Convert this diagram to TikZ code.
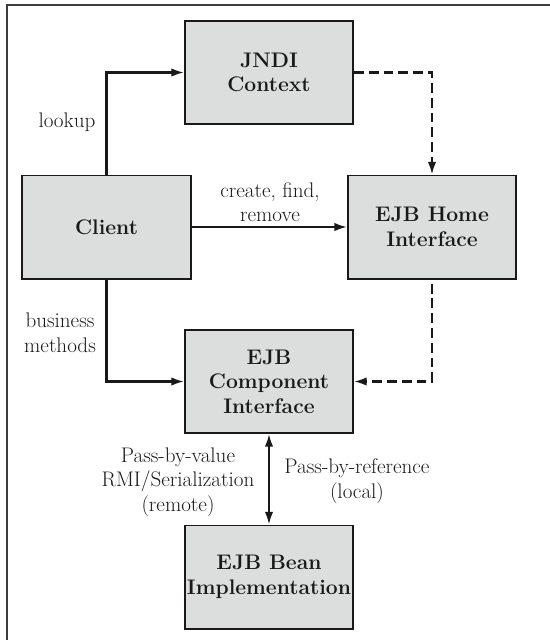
\documentclass[tikz,border=0pt]{standalone}
\usepackage{tikz}
\usetikzlibrary{arrows,arrows.meta,positioning,calc}
\definecolor{boxgray}{RGB}{220,222,222}
\definecolor{inkgray}{RGB}{25,25,25}

\begin{document}
\begin{tikzpicture}[x=0.025cm, y=-0.025cm, >={Latex[length=9pt,width=6pt]}, text=inkgray,
  main node/.style={rectangle,draw=inkgray,fill=boxgray,line width=1.4pt,minimum width=4.2cm,minimum height=2.575cm,inner sep=0pt,align=center,font=\fontsize{15}{17.5}\selectfont\bfseries},
  lbl/.style={align=center,font=\fontsize{15}{17.5}\selectfont},
  conn/.style={draw=inkgray,line width=1.5pt},
  dsh/.style={conn,dash pattern=on 7pt off 3.5pt}]%
\useasboundingbox (0,0) rectangle (550,640);
\draw[line width=1.6pt,draw=inkgray!85] (550,5) -- (7,5) -- (7,640);
\begin{scope}
\node[main node] (jndi) at (269,72.5) {JNDI\\Context};
\node[main node] (client) at (106.5,227) {Client};
\node[main node] (home) at (432,227) {EJB Home\\Interface};
\node[main node] (comp) at (269,381.5) {EJB\\Component\\Interface};
\node[main node] (bean) at (269,577) {EJB Bean\\Implementation};
\end{scope}
\begin{scope}[every node/.style={lbl}]
\node (lookup) at (67,122) {lookup};
\node (cfr) at (270,202) {create, find,\\remove};
\node (busi) at (60,333) {business\\methods};
\node (byval) at (178,482) {Pass-by-value\\RMI/Serialization\\(remote)};
\node (byref) at (357,481) {Pass-by-reference\\(local)};
\end{scope}
\draw[conn,->] (client.north) |- (jndi.west);
\draw[conn,->] (client.east) -- (home.west);
\draw[conn,->] (client.south) |- (comp.west);
\draw[dsh,->] (jndi.east) -| (home.north);
\draw[dsh,->,shorten <=3pt] (home.south) |- (comp.east);
\draw[conn,<->] (comp.south) -- (bean.north);
\end{tikzpicture}
\end{document}
